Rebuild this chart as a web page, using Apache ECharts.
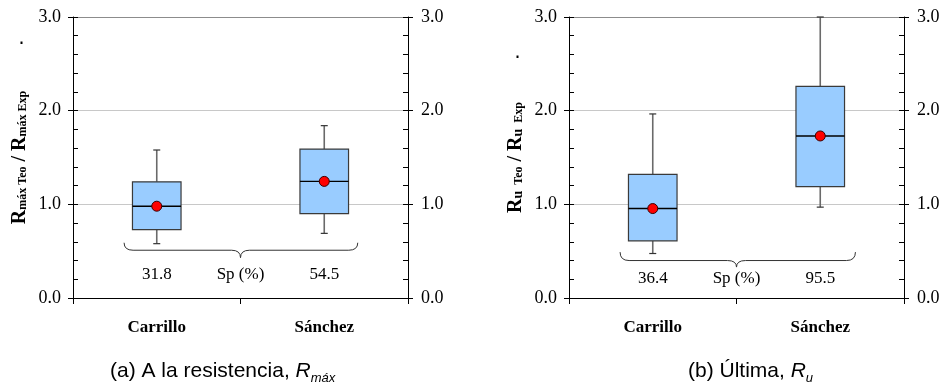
<!DOCTYPE html>
<html><head><meta charset="utf-8">
<script src="https://cdn.jsdelivr.net/npm/echarts@6/dist/echarts.min.js"></script>
<style>html,body{margin:0;padding:0;background:#fff}#c{width:943px;height:383px}</style>
</head><body><div id="c"></div>
<script>
// ---------- data ----------
const categories = ['Carrillo', 'Sánchez'];
const yTickValues = [0, 1, 2, 3];
// box statistics: [min, Q1, median, Q3, max]
const boxRmax = [[0.58, 0.73, 0.98, 1.24, 1.58], [0.69, 0.90, 1.245, 1.59, 1.84]];
const meanRmax = [0.98, 1.245];
const boxRu = [[0.475, 0.61, 0.955, 1.32, 1.965], [0.97, 1.19, 1.73, 2.26, 3.0]];
const meanRu = [0.955, 1.73];
const spRmax = ['31.8', '54.5'];
const spRu = ['36.4', '95.5'];
const spLabel = 'Sp (%)';
// brace annotation in data units: [xStart, xEnd, yEnds, yLine, yTip, yText]
const braceRmax = [-0.195, 1.2, 0.59, 0.51, 0.43, 0.255];
const braceRu = [-0.195, 1.21, 0.49, 0.40, 0.33, 0.21];
const captions = ['(a) A la resistencia, ', '(b) Última, '];
const captionSym = [['R', 'máx'], ['R', 'u']];

// ---------- styles ----------
const SERIF = '"Liberation Serif","Times New Roman",serif';
const SANS = '"Liberation Sans",Arial,sans-serif';
const grids = [
  {left: 73, top: 17, width: 335, height: 281},
  {left: 569, top: 17, width: 335, height: 281}
];

const chart = echarts.init(document.getElementById('c'), null, {renderer: 'canvas'});

function yAxes(g, name) {
  const common = {
    type: 'value', gridIndex: g, min: yTickValues[0], max: yTickValues[yTickValues.length - 1], interval: 1
  };
  const lblFmt = v => v.toFixed(1);
  return [
    Object.assign({}, common, {
      position: 'left',
      axisLine: {show: true, lineStyle: {color: '#000', width: 1}},
      axisTick: {show: true, inside: true, length: 5, lineStyle: {color: '#000'}},
      minorTick: {show: true, splitNumber: 5, length: 5, lineStyle: {color: '#000'}},
      axisLabel: {margin: 12, formatter: lblFmt, color: '#000', fontFamily: SERIF, fontSize: 18},
      splitLine: {show: true, lineStyle: {color: ['rgba(0,0,0,0)', '#c8c8c8', '#c8c8c8', '#8c8c8c'], width: 1}},
      name: name,
      nameLocation: 'middle',
      nameRotate: 90,
      nameGap: 43,
      nameTextStyle: {
        color: '#000', fontFamily: SERIF, fontWeight: 'bold',
        rich: {
          R: {fontFamily: SERIF, fontWeight: 'bold', fontSize: 20, color: '#000', verticalAlign: 'bottom'},
          t: {fontFamily: SERIF, fontWeight: 'bold', fontSize: 12, color: '#000', verticalAlign: 'bottom', padding: [0, 0, 1, 0]},
          u: {fontFamily: SERIF, fontWeight: 'bold', fontSize: 14, color: '#000', verticalAlign: 'bottom', padding: [0, 0, 1, 0]}
        }
      }
    }),
    Object.assign({}, common, {
      position: 'left',
      axisLine: {show: false},
      axisTick: {show: true, inside: false, length: 5, lineStyle: {color: '#000'}},
      axisLabel: {show: false}, splitLine: {show: false}
    }),
    Object.assign({}, common, {
      position: 'right',
      axisLine: {show: true, lineStyle: {color: '#000', width: 1}},
      axisTick: {show: true, inside: true, length: 5, lineStyle: {color: '#000'}},
      minorTick: {show: true, splitNumber: 5, length: 5, lineStyle: {color: '#000'}},
      axisLabel: {margin: 13, formatter: lblFmt, color: '#000', fontFamily: SERIF, fontSize: 18},
      splitLine: {show: false}
    }),
    Object.assign({}, common, {
      position: 'right',
      axisLine: {show: false},
      axisTick: {show: true, inside: false, length: 5, lineStyle: {color: '#000'}},
      axisLabel: {show: false}, splitLine: {show: false}
    })
  ];
}

function xAxis(g) {
  return {
    type: 'category', gridIndex: g, data: categories, boundaryGap: true,
    axisLine: {show: true, lineStyle: {color: '#000', width: 1}},
    axisTick: {show: true, inside: false, length: 6, alignWithLabel: false, lineStyle: {color: '#000'}},
    axisLabel: {margin: 21, color: '#000', fontFamily: SERIF, fontWeight: 'bold', fontSize: 17},
    splitLine: {show: false}
  };
}

function renderBox(params, api) {
  const x = api.value(0);
  const lo = api.coord([x, api.value(1)]);
  const q1 = api.coord([x, api.value(2)]);
  const md = api.coord([x, api.value(3)]);
  const q3 = api.coord([x, api.value(4)]);
  const hi = api.coord([x, api.value(5)]);
  const bw = api.size([1, 0])[0] * 0.29;
  const cx = lo[0];
  const cap = 3.5;
  const wStyle = {stroke: '#6a6a6a', lineWidth: 1.6};
  return {
    type: 'group',
    children: [
      {type: 'line', shape: {x1: cx, y1: hi[1], x2: cx, y2: q3[1]}, style: wStyle},
      {type: 'line', shape: {x1: cx, y1: q1[1], x2: cx, y2: lo[1]}, style: wStyle},
      {type: 'line', shape: {x1: cx - cap, y1: hi[1], x2: cx + cap, y2: hi[1]}, style: {stroke: '#333', lineWidth: 1.2}},
      {type: 'line', shape: {x1: cx - cap, y1: lo[1], x2: cx + cap, y2: lo[1]}, style: {stroke: '#333', lineWidth: 1.2}},
      {type: 'rect', shape: {x: cx - bw / 2, y: q3[1], width: bw, height: q1[1] - q3[1]},
        style: {fill: '#99ccff', stroke: '#3a3a3a', lineWidth: 1.2}},
      {type: 'line', shape: {x1: cx - bw / 2, y1: md[1], x2: cx + bw / 2, y2: md[1]}, style: {stroke: '#000', lineWidth: 1.4}}
    ]
  };
}

function makeBraceRenderer(sp) {
  return function (params, api) {
    const p0 = api.coord([0, api.value(2)]);
    const p1 = api.coord([1, api.value(2)]);
    const step = p1[0] - p0[0];
    const xs = p0[0] + api.value(0) * step;
    const xe = p0[0] + api.value(1) * step;
    const xm = p0[0] + 0.5 * step;
    const yE = api.coord([0, api.value(2)])[1];
    const yL = api.coord([0, api.value(3)])[1];
    const yT = api.coord([0, api.value(4)])[1];
    const yTx = api.coord([0, api.value(5)])[1];
    const c = 9;
    const path = `M${xs},${yE} Q${xs},${yL} ${xs + c},${yL} L${xm - c},${yL} Q${xm},${yL} ${xm},${yT} ` +
      `Q${xm},${yL} ${xm + c},${yL} L${xe - c},${yL} Q${xe},${yL} ${xe},${yE}`;
    const tStyle = (txt, x) => ({
      type: 'text', x: x, y: yTx,
      style: {text: txt, fill: '#000', font: '17px ' + SERIF, align: 'center', verticalAlign: 'middle'}
    });
    return {
      type: 'group',
      children: [
        {type: 'path', shape: {pathData: path}, style: {fill: 'none', stroke: '#333', lineWidth: 1}},
        tStyle(sp[0], p0[0]),
        tStyle(spLabel, xm),
        tStyle(sp[1], p1[0])
      ]
    };
  };
}

function seriesFor(g, boxes, means, brace, sp) {
  return [
    {
      type: 'custom', xAxisIndex: g, yAxisIndex: 4 * g, renderItem: renderBox, z: 3,
      encode: {x: 0, y: [1, 2, 3, 4, 5]},
      data: boxes.map((b, i) => [i].concat(b))
    },
    {
      type: 'custom', xAxisIndex: g, yAxisIndex: 4 * g, renderItem: makeBraceRenderer(sp), z: 2,
      encode: {x: -1, y: -1}, clip: false,
      data: [brace]
    },
    {
      type: 'scatter', xAxisIndex: g, yAxisIndex: 4 * g, z: 5,
      symbol: 'circle', symbolSize: 10,
      itemStyle: {color: '#ff0000', borderColor: '#3a0000', borderWidth: 1, opacity: 1},
      data: means.map((m, i) => [i, m])
    }
  ];
}

function caption(i, left) {
  return {
    type: 'text', left: left, top: 361,
    style: {
      text: `{n|${captions[i]}}{i|${captionSym[i][0]}}{s|${captionSym[i][1]}}`,
      rich: {
        n: {font: '21px ' + SANS, fill: '#000', verticalAlign: 'bottom'},
        i: {font: 'italic 21px ' + SANS, fill: '#000', verticalAlign: 'bottom'},
        s: {font: 'italic 13px ' + SANS, fill: '#000', verticalAlign: 'bottom', padding: [0, 0, -3, 0]}
      }
    }
  };
}

const option = {
  animation: false,
  backgroundColor: '#fff',
  grid: grids,
  xAxis: [xAxis(0), xAxis(1)],
  yAxis: yAxes(0, '{R|R}{t|máx Teo}{R| / R}{t|máx Exp}')
    .concat(yAxes(1, '{R|R}{u|u}{t|  Teo}{R| / R}{u|u}{t|  Exp}')),
  series: seriesFor(0, boxRmax, meanRmax, braceRmax, spRmax)
    .concat(seriesFor(1, boxRu, meanRu, braceRu, spRu)),
  graphic: [
    caption(0, 110),
    caption(1, 688),
    {type: 'rect', shape: {x: 20.5, y: 41.5, width: 2, height: 2.5}, style: {fill: '#000'}},
    {type: 'rect', shape: {x: 516.5, y: 55.5, width: 2, height: 2.5}, style: {fill: '#000'}}
  ]
};
chart.setOption(option);
</script>
</body></html>
